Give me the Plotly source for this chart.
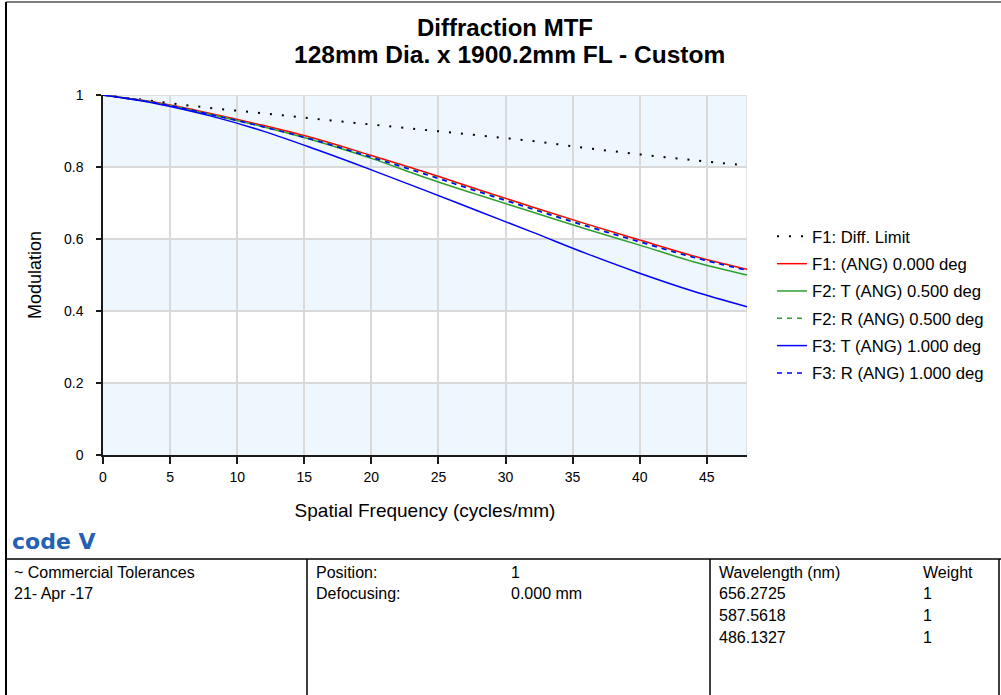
import plotly.graph_objects as go

# Spatial frequency samples (cycles/mm)
freq = [0, 4, 8, 12, 16, 20, 24, 28, 32, 36, 40, 44, 48]

# Modulation values per field
diff_limit = [1.0, 0.982, 0.964, 0.949, 0.933, 0.918, 0.903, 0.888, 0.872, 0.853, 0.835, 0.819, 0.804]
f1_axis    = [1.0, 0.979, 0.949, 0.915, 0.877, 0.832, 0.786, 0.737, 0.689, 0.642, 0.597, 0.553, 0.516]
f2_tan     = [1.0, 0.978, 0.946, 0.911, 0.871, 0.824, 0.771, 0.722, 0.675, 0.628, 0.583, 0.537, 0.500]
f2_rad     = [1.0, 0.978, 0.947, 0.912, 0.874, 0.829, 0.782, 0.733, 0.685, 0.638, 0.593, 0.550, 0.514]
f3_tan     = [1.0, 0.976, 0.942, 0.899, 0.847, 0.792, 0.735, 0.677, 0.619, 0.560, 0.505, 0.455, 0.412]
f3_rad     = [1.0, 0.978, 0.946, 0.911, 0.872, 0.827, 0.780, 0.731, 0.683, 0.636, 0.592, 0.549, 0.513]

series_names = [
    "F1: Diff. Limit",
    "F1: (ANG) 0.000 deg",
    "F2: T (ANG) 0.500 deg",
    "F2: R (ANG) 0.500 deg",
    "F3: T (ANG) 1.000 deg",
    "F3: R (ANG) 1.000 deg",
]

x_ticks = [0, 5, 10, 15, 20, 25, 30, 35, 40, 45]
y_ticks = [0, 0.2, 0.4, 0.6, 0.8, 1]

title_lines = ["Diffraction MTF", "128mm Dia. x 1900.2mm FL - Custom"]

info_left = ["~ Commercial Tolerances", "21- Apr -17"]
info_mid_labels = ["Position:", "Defocusing:"]
info_mid_values = ["1", "0.000 mm"]
wavelengths = ["656.2725", "587.5618", "486.1327"]
weights = ["1", "1", "1"]

FONT = "Liberation Sans, Arial, sans-serif"
W, H = 1001, 695
L, R, T, B = 103, 747, 95, 455


def px_x(x):
    return (x - L) / (R - L)


def px_y(y):
    return (B - y) / (B - T)


styles = [
    dict(color="#000000", width=2, dash="2px,10px"),
    dict(color="#FF0000", width=1.5, dash="solid"),
    dict(color="#2E9E2E", width=1.5, dash="solid"),
    dict(color="#2E9E2E", width=1.5, dash="5px,5px"),
    dict(color="#0000FF", width=1.5, dash="solid"),
    dict(color="#0000FF", width=1.5, dash="5px,5px"),
]
data = [diff_limit, f1_axis, f2_tan, f2_rad, f3_tan, f3_rad]

fig = go.Figure()
for i, (name, ys, st) in enumerate(zip(series_names, data, styles)):
    fig.add_trace(go.Scatter(
        x=freq, y=ys, name=name, mode="lines",
        line=dict(color=st["color"], width=st["width"], dash=st["dash"], shape="spline"),
        legendgroup=f"g{i}",
    ))

shapes = []
# alternating bands in the plot area
for y0 in (0.0, 0.4, 0.8):
    shapes.append(dict(type="rect", xref="x", yref="y", x0=0, x1=48, y0=y0, y1=y0 + 0.2,
                       fillcolor="#EEF6FE", line=dict(width=0), layer="below"))
# plot frame edges (top / right)
shapes.append(dict(type="line", xref="x", yref="y", x0=0, x1=48, y0=1, y1=1,
                   line=dict(color="#D9D9D9", width=1.5), layer="below"))
shapes.append(dict(type="line", xref="x", yref="y", x0=48, x1=48, y0=0, y1=1,
                   line=dict(color="#D9D9D9", width=1.5), layer="below"))
# page frame
shapes.append(dict(type="line", xref="paper", yref="paper", x0=px_x(6), x1=px_x(1001),
                   y0=px_y(2), y1=px_y(2), line=dict(color="#7F7F7F", width=2)))
shapes.append(dict(type="line", xref="paper", yref="paper", x0=px_x(6), x1=px_x(6),
                   y0=px_y(2), y1=px_y(695), line=dict(color="#000000", width=2)))
# info table
shapes.append(dict(type="line", xref="paper", yref="paper", x0=px_x(6), x1=px_x(1001),
                   y0=px_y(559), y1=px_y(559), line=dict(color="#000000", width=1.5)))
for xv in (307, 710, 999):
    shapes.append(dict(type="line", xref="paper", yref="paper", x0=px_x(xv), x1=px_x(xv),
                       y0=px_y(559), y1=px_y(695), line=dict(color="#000000", width=1.5)))

annotations = []
annotations.append(dict(text=f"<b>{title_lines[0]}</b>", xref="paper", yref="paper",
                        x=px_x(505), y=px_y(27), showarrow=False, xanchor="center", yanchor="middle",
                        font=dict(family=FONT, size=24, color="#000000")))
annotations.append(dict(text=f"<b>{title_lines[1]}</b>", xref="paper", yref="paper",
                        x=px_x(509), y=px_y(55), showarrow=False, xanchor="center", yanchor="middle",
                        font=dict(family=FONT, size=24.5, color="#000000")))
# logo
annotations.append(dict(text="<b>code V</b>", xref="paper", yref="paper",
                        x=px_x(10), y=px_y(541), showarrow=False, xanchor="left", yanchor="middle",
                        font=dict(family="DejaVu Sans, sans-serif", size=22, color="#2461B3")))


def cell(text, xp, yp):
    annotations.append(dict(text=text, xref="paper", yref="paper", x=px_x(xp), y=px_y(yp),
                            showarrow=False, xanchor="left", yanchor="middle",
                            font=dict(family=FONT, size=16, color="#000000")))


rows = [572, 593, 615, 637]
for i, t in enumerate(info_left):
    cell(t, 12, rows[i])
for i, (lab, val) in enumerate(zip(info_mid_labels, info_mid_values)):
    cell(lab, 314, rows[i])
    cell(val, 509, rows[i])
cell("Wavelength (nm)", 717, rows[0])
cell("Weight", 921, rows[0])
for i, (wl, wt) in enumerate(zip(wavelengths, weights)):
    cell(wl, 717, rows[i + 1])
    cell(wt, 921, rows[i + 1])

axis_common = dict(
    showgrid=True, gridcolor="#D9D9D9", gridwidth=1.5,
    showline=True, linecolor="#1A1A1A", linewidth=1.5,
    ticks="outside", tickwidth=1.5, tickcolor="#1A1A1A",
    zeroline=False, tickfont=dict(family=FONT, size=14, color="#000000"),
)

fig.update_layout(
    width=W, height=H,
    margin=dict(l=L, r=W - R, t=T, b=H - B, pad=0),
    paper_bgcolor="#FFFFFF", plot_bgcolor="#FFFFFF",
    font=dict(family=FONT, color="#000000"),
    xaxis=dict(range=[0, 48], tickvals=x_ticks, ticklen=7, ticklabelstandoff=1,
               title=dict(text="Spatial Frequency (cycles/mm)", standoff=20,
                          font=dict(family=FONT, size=19, color="#000000")),
               **axis_common),
    yaxis=dict(range=[0, 1], tickvals=y_ticks, ticklen=5, ticklabelstandoff=10,
               title=dict(text="Modulation", standoff=18,
                          font=dict(family=FONT, size=18, color="#000000")),
               **axis_common),
    showlegend=True,
    legend=dict(x=px_x(772), y=px_y(219), xanchor="left", yanchor="top",
                bgcolor="rgba(0,0,0,0)", borderwidth=0, tracegroupgap=2.6,
                itemwidth=30, font=dict(family=FONT, size=16.7, color="#000000")),
    shapes=shapes, annotations=annotations,
)

fig.write_html("out.html")
